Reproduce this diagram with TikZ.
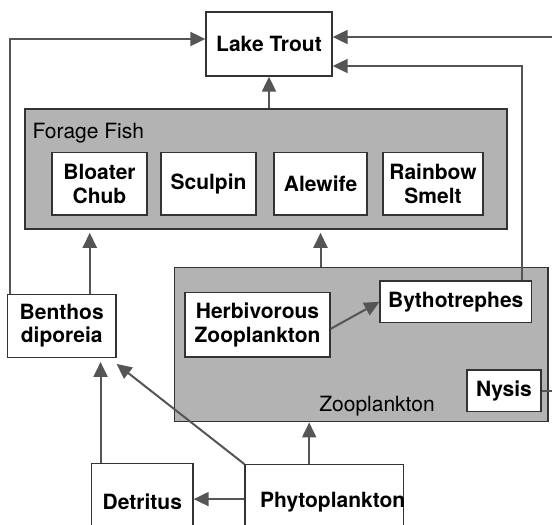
\documentclass[tikz,border=0pt]{standalone}
\usepackage{fontspec}
\setmainfont{TeX Gyre Heros}
\usetikzlibrary{arrows.meta}
\definecolor{wire}{HTML}{555555}
\definecolor{panel}{HTML}{B3B3B3}
\definecolor{rim}{HTML}{333333}
\begin{document}
\begin{tikzpicture}[x=1pt,y=-1pt,
  every node/.style={font=\fontsize{21}{23.5}\selectfont},
  taxon/.style={draw=rim,line width=1.3pt,fill=white,inner sep=0pt,align=center,font=\fontsize{21}{23.5}\selectfont\bfseries},
  group/.style={draw=rim,line width=1.5pt,fill=panel,inner sep=0pt},
  flow/.style={draw=wire,line width=2pt,-{Triangle[length=15pt,width=14pt]}}]
\useasboundingbox (0,0) rectangle (552,525);
% top predator
\node[taxon,minimum width=126pt,minimum height=64pt] (trout) at (269,44) {Lake Trout};
% forage fish group
\node[group,minimum width=482pt,minimum height=120pt] (forage) at (266,169) {};
\node[anchor=west] (foragelbl) at (29,132.7) {Forage Fish};
\node[taxon,minimum width=95pt,minimum height=62.5pt] (bloater) at (99.5,183.75) {Bloater\\Chub};
\node[taxon,minimum width=95pt,minimum height=62.5pt] (sculpin) at (208.5,183.75) {Sculpin};
\node[taxon,minimum width=93pt,minimum height=62.5pt] (alewife) at (320.5,183.75) {Alewife};
\node[taxon,minimum width=100pt,minimum height=62.5pt] (rainbow) at (433,183.75) {Rainbow\\Smelt};
% zooplankton group
\node[group,minimum width=373.7pt,minimum height=154.4pt] (zoo) at (361.2,344.5) {};
\node (zoolbl) at (377,406) {Zooplankton};
\node[taxon,minimum width=145pt,minimum height=64.3pt] (herb) at (257.5,324.85) {Herbivorous\\Zooplankton};
\node[taxon,minimum width=151.5pt,minimum height=41.7pt] (byth) at (455.75,301.85) {Bythotrephes};
\node[taxon,minimum width=74pt,minimum height=41.5pt] (nysis) at (504,390.75) {Nysis};
% benthos and base
\node[taxon,minimum width=108.5pt,minimum height=63pt] (benthos) at (61.75,325.8) {Benthos\\diporeia};
\node[taxon,minimum width=101.3pt,minimum height=77.4pt] (detritus) at (142.35,502) {Detritus};
\node[taxon,minimum width=158.4pt,minimum height=75.8pt] (phyto) at (324.2,502.6) {};
\node[font=\fontsize{21}{23.5}\selectfont\bfseries] (phytolbl) at ([xshift=8.5pt]phyto.center) {Phytoplankton};
\coordinate (margin) at (558,200);
% flows
\draw[flow] (trout.south |- forage.north) -- (trout.south);
\draw[flow] ([xshift=3.5pt]benthos.north west) |- ([yshift=5pt]trout.west);
\draw[flow] (nysis.east) -| (margin) |- ([yshift=7pt]trout.east);
\draw[flow] ([xshift=-10pt]byth.north east) |- ([yshift=-22pt]trout.east);
\draw[flow,shorten >=3pt] ([xshift=28pt]benthos.north) -- ([xshift=28pt]benthos.north |- forage.south);
\draw[flow,shorten >=3pt] (zoo.north -| alewife) -- (forage.south -| alewife);
\draw[flow] ([yshift=-4pt]herb.east) -- (byth.west);
\draw[flow,shorten >=4pt] ([xshift=9.5pt]detritus.north west) -- ([xshift=9.5pt]detritus.north west |- benthos.south);
\draw[flow] (phyto.north west) -- ([yshift=-6pt]benthos.south east);
\draw[flow] ([xshift=-15pt]phyto.north) -- ([xshift=-15pt]phyto.north |- zoo.south);
\draw[flow] ([yshift=3.5pt]phyto.west) -- ([yshift=3.5pt]phyto.west -| detritus.east);
\end{tikzpicture}
\end{document}
